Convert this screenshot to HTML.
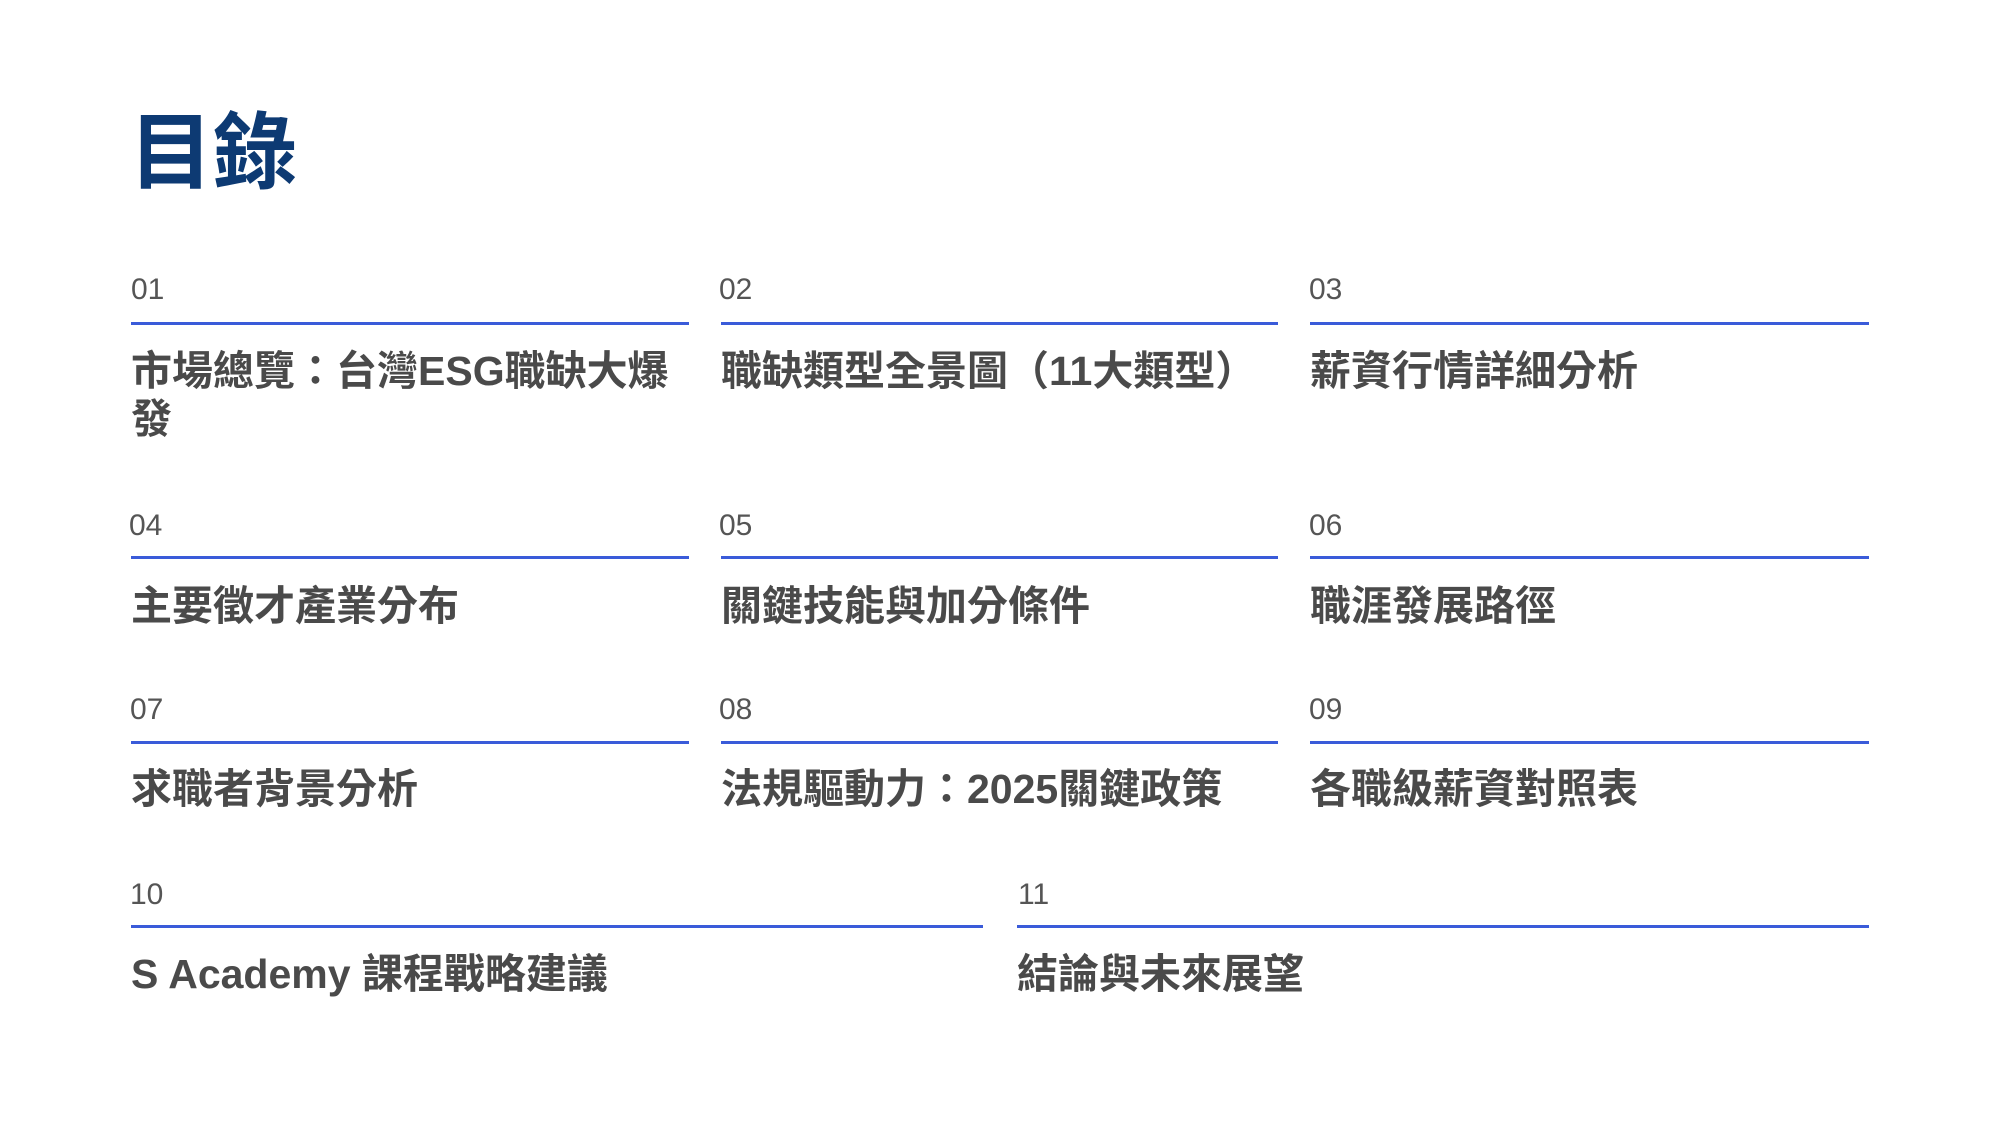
<!DOCTYPE html>
<html><head><meta charset="utf-8"><style>
body{margin:0;width:2000px;height:1125px;background:#fff;position:relative;overflow:hidden;font-family:"Liberation Sans","Noto Sans CJK TC",sans-serif}
.t{position:absolute;left:129px;top:111px;font-size:84px;font-weight:bold;color:#0d3a73;line-height:1}
.n{position:absolute;font-size:30px;color:#555;line-height:1}
.l{position:absolute;height:3px;background:#3a5bd9}
.h{position:absolute;font-size:41px;font-weight:bold;color:#4a4a4a;line-height:48px}
</style></head><body>
<div class="t">目錄</div>

<div class="n" style="left:131px;top:275px">01</div>
<div class="l" style="left:131px;top:322px;width:558px"></div>
<div class="h" style="left:131px;top:347px;width:560px">市場總覽：台灣ESG職缺大爆發</div>
<div class="n" style="left:719px;top:275px">02</div>
<div class="l" style="left:721px;top:322px;width:557px"></div>
<div class="h" style="left:721px;top:347px;width:600px">職缺類型全景圖（11大類型）</div>
<div class="n" style="left:1309px;top:275px">03</div>
<div class="l" style="left:1310px;top:322px;width:559px"></div>
<div class="h" style="left:1310px;top:347px">薪資行情詳細分析</div>

<div class="n" style="left:129px;top:511px">04</div>
<div class="l" style="left:131px;top:556px;width:558px"></div>
<div class="h" style="left:131px;top:582px">主要徵才產業分布</div>
<div class="n" style="left:719px;top:511px">05</div>
<div class="l" style="left:721px;top:556px;width:557px"></div>
<div class="h" style="left:721px;top:582px">關鍵技能與加分條件</div>
<div class="n" style="left:1309px;top:511px">06</div>
<div class="l" style="left:1310px;top:556px;width:559px"></div>
<div class="h" style="left:1310px;top:582px">職涯發展路徑</div>

<div class="n" style="left:130px;top:695px">07</div>
<div class="l" style="left:131px;top:741px;width:558px"></div>
<div class="h" style="left:131px;top:765px">求職者背景分析</div>
<div class="n" style="left:719px;top:695px">08</div>
<div class="l" style="left:721px;top:741px;width:557px"></div>
<div class="h" style="left:721px;top:765px">法規驅動力：2025關鍵政策</div>
<div class="n" style="left:1309px;top:695px">09</div>
<div class="l" style="left:1310px;top:741px;width:559px"></div>
<div class="h" style="left:1310px;top:765px">各職級薪資對照表</div>

<div class="n" style="left:130px;top:880px">10</div>
<div class="l" style="left:131px;top:925px;width:852px"></div>
<div class="h" style="left:131px;top:950px">S Academy 課程戰略建議</div>
<div class="n" style="left:1018px;top:880px">11</div>
<div class="l" style="left:1017px;top:925px;width:852px"></div>
<div class="h" style="left:1017px;top:950px">結論與未來展望</div>
</body></html>
